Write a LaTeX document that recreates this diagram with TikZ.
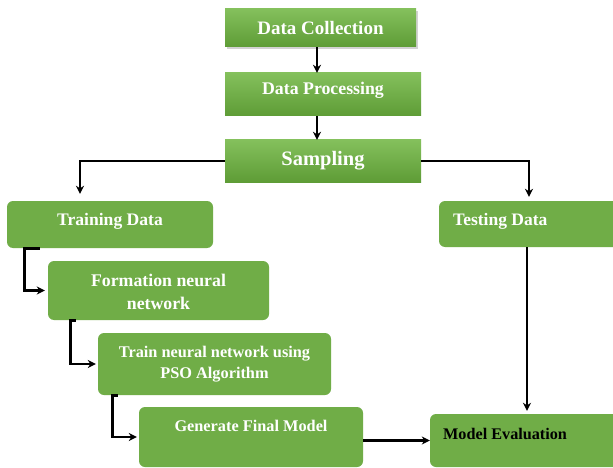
\documentclass[tikz,border=0pt]{standalone}
\usepackage{fontspec}
\setmainfont{Liberation Serif}
\usetikzlibrary{arrows.meta,shadows,calc}
\definecolor{gtop}{RGB}{132,192,92}
\definecolor{gbot}{RGB}{94,156,54}
\definecolor{gflat}{RGB}{112,173,71}
\newcommand{\fsz}[2]{\fontsize{#1}{#2}\selectfont}
\begin{document}
\begin{tikzpicture}[x=1pt,y=-1pt,
  topbox/.style={draw=none, top color=gtop, bottom color=gbot, inner sep=0pt, text=white},
  lowbox/.style={draw=none, fill=gflat, rounded corners=6pt, inner sep=0pt},
  lbl/.style={text=white, align=center, inner sep=0pt},
  arr/.style={line width=2.8pt, -{Stealth[length=8pt,width=8pt]}}]
\useasboundingbox (0,0) rectangle (613,468);
\fill[white] (0,0) rectangle (613,468);
% top boxes
\node[topbox, minimum width=191pt, minimum height=38pt, font=\bfseries\fsz{19}{22},
  drop shadow={shadow xshift=1.5pt, shadow yshift=-2.5pt, opacity=0.35}] (dc) at (320.5,28) {Data Collection};
\node[topbox, minimum width=196pt, minimum height=43pt] (dp) at (323,94.5) {};
\node[lbl, font=\bfseries\fsz{17.8}{21}] (dpt) at (323,90) {Data Processing};
\node[topbox, minimum width=196pt, minimum height=42pt, font=\bfseries\fsz{20.5}{24}] (samp) at (323,161) {Sampling};
% lower boxes
\node[lowbox, minimum width=206pt, minimum height=47pt] (trd) at (110,224.5) {};
\node[lbl, font=\bfseries\fsz{17.6}{21}] (trdt) at (110,221) {Training Data};
\node[lowbox, minimum width=181pt, minimum height=46pt] (ted) at (529.5,224) {};
\node[lbl, anchor=west, font=\bfseries\fsz{17.5}{21}] (tedt) at (453,221) {Testing Data};
\node[lowbox, minimum width=221pt, minimum height=59pt] (form) at (158.5,290.5) {};
\node[lbl, font=\bfseries\fsz{17.8}{23}] (formt) at (158.5,292) {Formation neural\\network};
\node[lowbox, minimum width=233pt, minimum height=62pt] (tnn) at (214.5,364) {};
\node[lbl, font=\bfseries\fsz{16.3}{21}] (tnnt) at (214.5,364) {Train neural network using\\PSO Algorithm};
\node[lowbox, minimum width=224pt, minimum height=60pt] (gen) at (251,437) {};
\node[lbl, font=\bfseries\fsz{16.3}{20}] (gent) at (251,426) {Generate Final Model};
\node[lowbox, minimum width=190pt, minimum height=53pt] (me) at (525,440.5) {};
\node[lbl, anchor=west, text=black, font=\bfseries\fsz{16.2}{20}] (met) at (443,434) {Model Evaluation};
% connectors
\draw[arr] ([xshift=-3.5pt]dc.south) -- ([xshift=-6pt]dp.north);
\draw[arr] ([xshift=-6pt]dp.south) -- ([xshift=-6pt]samp.north);
\draw[arr, shorten >=7pt] (samp.west) -| ([xshift=-30pt]trd.north);
\draw[arr, shorten >=4pt] (samp.east) -| ([xshift=-0.5pt]ted.north);
\coordinate (c1) at ([xshift=33pt]trd.south west);
\coordinate (c2) at ([xshift=18pt]trd.south west);
\draw[arr, shorten >=3pt] (c1) -- (c2) |- (form.west);
\coordinate (c3) at ([xshift=28pt]form.south west);
\coordinate (c4) at ([xshift=23pt]form.south west);
\draw[arr, shorten >=2pt] (c3) -- (c4) |- (tnn.west);
\coordinate (c5) at ([xshift=20pt]tnn.south west);
\draw[arr, shorten >=2pt] (c5) -- ++(-5,0) |- (gen.west);
\draw[arr] (gen.east |- me.west) -- (me.west);
\coordinate (c6) at ([xshift=-2.5pt]ted.south);
\draw[arr, shorten >=3pt] (c6) -- (c6 |- me.north);
\end{tikzpicture}
\end{document}
